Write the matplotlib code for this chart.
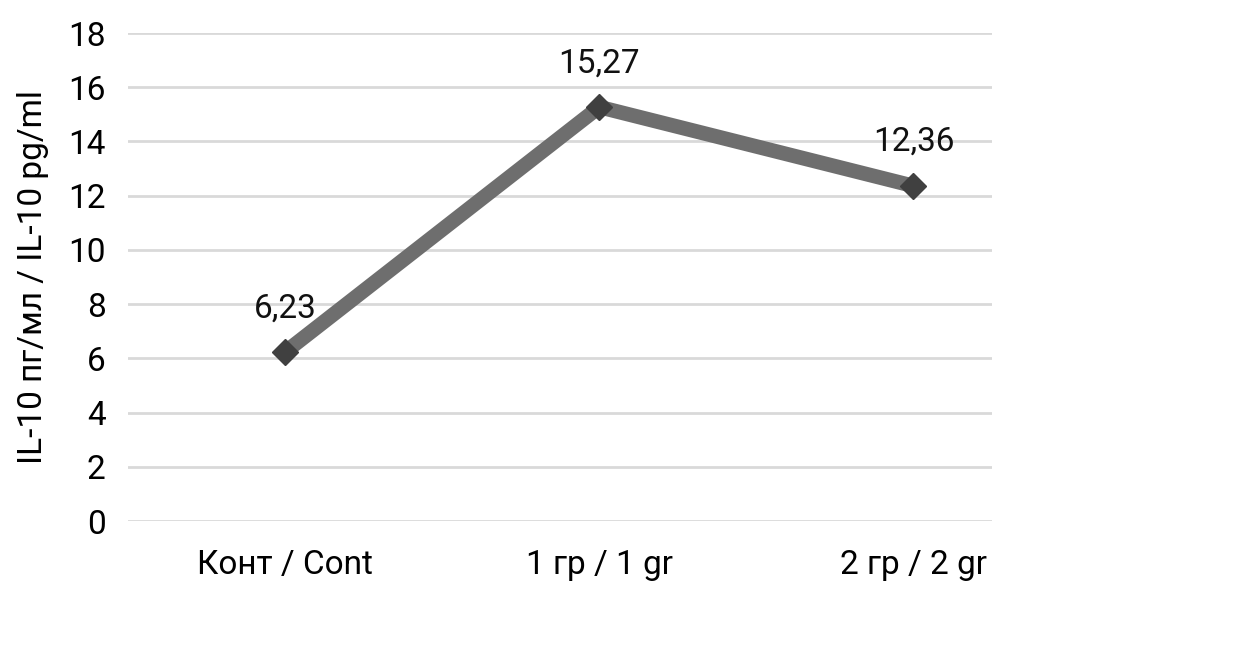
import matplotlib.pyplot as plt
import numpy as np

plt.rcParams['font.family'] = ['Roboto', 'DejaVu Sans']

categories = ['Конт / Cont', '1 гр / 1 gr', '2 гр / 2 gr']
values = [6.23, 15.27, 12.36]
labels = ['6,23', '15,27', '12,36']
yticks = np.arange(0, 19, 2)

fig = plt.figure(figsize=(12.4, 6.6), dpi=100)
ax = fig.add_axes([0.1032, 0.2106, 0.6968, 0.7394])

x = np.arange(len(categories))
ax.plot(x, values, color='#6e6e6e', linewidth=10.5, solid_capstyle='butt', zorder=3)
ax.plot(x, values, linestyle='none', marker='D', markersize=13,
        color='#404040', zorder=4)

for xi, v, lab in zip(x, values, labels):
    ax.annotate(lab, (xi, v), xytext=(0, 20), textcoords='offset points',
                ha='center', va='bottom', fontsize=24, color='#111111')

ax.set_xlim(-0.5, 2.25)
ax.set_ylim(0, 18)
ax.set_yticks(yticks)
ax.set_yticklabels([str(t) for t in yticks], fontsize=24)
ax.set_xticks(x)
ax.set_xticklabels(categories, fontsize=24)
ax.tick_params(axis='y', length=0, pad=16)
ax.tick_params(axis='x', length=0, pad=20)
ax.grid(axis='y', color='#d9d9d9', linewidth=2)
ax.set_axisbelow(True)
for s in ax.spines.values():
    s.set_visible(False)
ax.set_ylabel('IL-10 пг/мл / IL-10 pg/ml', fontsize=24, labelpad=14)

fig.savefig('out.png', dpi=100)
